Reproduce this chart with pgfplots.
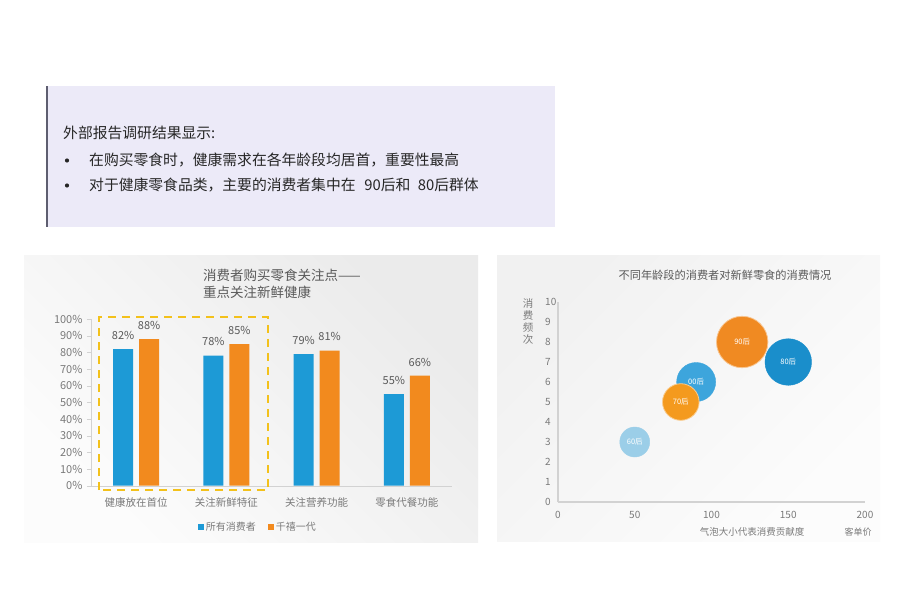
\documentclass[border=0pt]{standalone}
\usepackage{fontspec}
\setmainfont{Noto Sans CJK SC}
\usepackage{pgfplots}
\pgfplotsset{compat=1.18}

\definecolor{barblue}{HTML}{1D9AD6}
\definecolor{barorange}{HTML}{F28A1E}
\definecolor{b60}{HTML}{9BCEE8}
\definecolor{b00}{HTML}{3DA5DC}
\definecolor{b80}{HTML}{1A8ECB}
\definecolor{b70}{HTML}{F49A1E}
\definecolor{b90}{HTML}{F08A22}
\definecolor{tickgray}{HTML}{7A7A7A}
\definecolor{titlegray}{HTML}{595959}
\definecolor{linegray}{HTML}{D2D2D2}
\definecolor{boxfill}{RGB}{236,234,248}
\definecolor{boxline}{HTML}{5E5E70}
\definecolor{dashcol}{HTML}{F3C11B}
\definecolor{txt}{HTML}{262626}

\begin{document}
\begin{tikzpicture}[x=1pt,y=1pt]
\fill[white] (0,0) rectangle (900,598);
\useasboundingbox (0,0) rectangle (900,598);

% text box
\fill[boxfill] (47,371) rectangle (555,512);
\draw[boxline, line width=1.5pt] (47,371) -- (47,512);
\fill[txt] (67,437.5) circle (2.1pt);
\fill[txt] (67,412.5) circle (2.1pt);
\begin{scope}[every node/.style={inner sep=0, text=txt, font=\fontsize{14.8}{17}\selectfont}]
\node[anchor=west] at (63,465) {外部报告调研结果显示:};
\node[anchor=west] at (89,438) {在购买零食时，健康需求在各年龄段均居首，重要性最高};
\node[anchor=west] at (89,413) {对于健康零食品类，主要的消费者集中在\hspace{0.6em}90后和\hspace{0.5em}80后群体};
\end{scope}

% panels
\shade[top color=gray!16, bottom color=gray!2, shading angle=-45] (24,56) rectangle (478,342);
\shade[top color=gray!11, bottom color=gray!2, shading angle=45] (497,57) rectangle (880,342);

% left chart
\node[anchor=west, inner sep=0, text=titlegray, font=\fontsize{13.5}{16}\selectfont] at (203,323) {消费者购买零食关注点——};
\node[anchor=west, inner sep=0, text=titlegray, font=\fontsize{13.5}{16}\selectfont] at (203,306) {重点关注新鲜健康};

\begin{axis}[
  at={(91pt,112.3pt)}, anchor=south west,
  scale only axis, width=361pt, height=166.7pt,
  ybar=6pt, bar width=20pt,
  xmin=-0.5, xmax=3.5, ymin=0, ymax=100,
  xtick={0,1,2,3},
  xticklabels={健康放在首位,关注新鲜特征,关注营养功能,零食代餐功能},
  ytick={0,10,...,100},
  yticklabel={\pgfmathprintnumber{\tick}\%},
  /pgf/number format/assume math mode=true,
  axis x line*=bottom, axis y line*=left,
  axis line style={draw=linegray, -},
  xtick style={draw=none}, ytick style={draw=linegray},
  tick align=outside, major tick length=4pt,
  yticklabel style={font=\fontsize{11}{13}\selectfont, text=tickgray, xshift=-1pt},
  xticklabel style={font=\fontsize{10.5}{12}\selectfont, text=tickgray, yshift=-4pt},
  nodes near coords={\pgfmathprintnumber{\pgfplotspointmeta}\%},
  every node near coord/.append style={font=\fontsize{11}{13}\selectfont, text=titlegray, yshift=6pt},
  legend style={at={(0.4626,-0.2478)}, anchor=center, draw=none, fill=none,
    font=\fontsize{10}{12}\selectfont, text=tickgray, legend columns=2,
    /tikz/every even column/.append style={column sep=10pt}},
  clip=false,
]
\addplot[fill=barblue, draw=none,
  legend image code/.code={\fill[barblue] (0pt,-3pt) rectangle (6pt,3pt);}]
  coordinates {(0,82) (1,78) (2,79) (3,55)};
\addplot[fill=barorange, draw=none,
  legend image code/.code={\fill[barorange] (0pt,-3pt) rectangle (6pt,3pt);}]
  coordinates {(0,88) (1,85) (2,81) (3,66)};
\legend{所有消费者,千禧一代}
\end{axis}
\draw[dashcol, line width=2.6pt, dash pattern=on 8pt off 6pt] (99,108) rectangle (268,281);

% right chart
\node[inner sep=0, text=titlegray, font=\fontsize{11.2}{13}\selectfont] at (725,323) {不同年龄段的消费者对新鲜零食的消费情况};
\node[inner sep=0, align=center, text=tickgray, font=\fontsize{10.5}{12}\selectfont] at (528,276.5) {消\\费\\频\\次};
\node[inner sep=0, text=tickgray, font=\fontsize{9.5}{11}\selectfont] at (752,66) {气泡大小代表消费贡献度};
\node[inner sep=0, text=tickgray, font=\fontsize{9}{11}\selectfont] at (858,66) {客单价};

\begin{axis}[
  at={(558pt,96pt)}, anchor=south west,
  scale only axis, width=307pt, height=200pt,
  xmin=0, xmax=200, ymin=0, ymax=10,
  xtick={0,50,...,200}, ytick={0,1,...,10},
  /pgf/number format/assume math mode=true,
  axis x line*=bottom, axis y line*=left,
  axis line style={draw=linegray, line width=1.1pt, -},
  major tick length=0pt,
  ticklabel style={font=\fontsize{10}{12}\selectfont, text=tickgray},
  xticklabel style={yshift=-6pt},
  yticklabel style={anchor=west, xshift=-16.3pt},
  clip=false,
  every axis plot/.append style={only marks, mark=*},
  every node near coord/.append style={anchor=center, text=white, font=\fontsize{7.5}{9}\selectfont},
]
\addplot[mark size=15pt, mark options={fill=b60, draw=b60}, nodes near coords={60后}] coordinates {(50,3)};
\addplot[mark size=19.5pt, mark options={fill=b00, draw=b00}, nodes near coords={00后}] coordinates {(90,6)};
\addplot[mark size=18.3pt, mark options={fill=b70, draw=b70!50!white, line width=0.8pt}, nodes near coords={70后}] coordinates {(80,5)};
\addplot[mark size=23.3pt, mark options={fill=b80, draw=b80}, nodes near coords={80后}] coordinates {(150,7)};
\addplot[mark size=25.7pt, mark options={fill=b90, draw=b90!50!white, line width=0.8pt}, nodes near coords={90后}] coordinates {(120,8)};
\end{axis}
\end{tikzpicture}
\end{document}
